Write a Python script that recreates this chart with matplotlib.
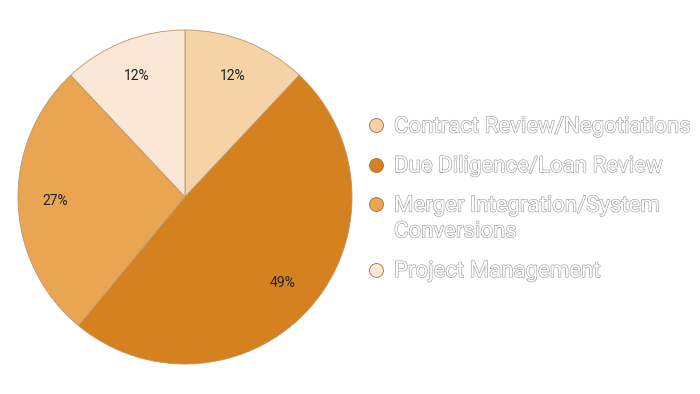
import matplotlib
matplotlib.use("Agg")
import matplotlib.pyplot as plt
import matplotlib.patheffects as pe

categories = ["Contract Review/Negotiations", "Due Diligence/Loan Review",
              "Merger Integration/System Conversions", "Project Management"]
legend_labels = ["Contract Review/Negotiations", "Due Diligence/Loan Review",
                 "Merger Integration/System\nConversions", "Project Management"]
values = [12, 49, 27, 12]
colors = ["#F5D3A6", "#D5811F", "#E9A552", "#FAE7D6"]

plt.rcParams['font.family'] = ['Roboto', 'DejaVu Sans']

fig = plt.figure(figsize=(7, 3.94), dpi=100)
W, H = 700, 394
cx, cy, r = 185, 197, 167
ax = fig.add_axes([(cx - r) / W, 1 - (cy + r) / H, 2 * r / W, 2 * r / H])
wedges, texts, autotexts = ax.pie(
    values, colors=colors, startangle=90, counterclock=False,
    autopct=lambda p: f"{p:.0f}%", pctdistance=0.78,
    wedgeprops=dict(edgecolor="#B9966A", linewidth=0.6),
    textprops=dict(fontsize=10, color="#222222"))
ax.set_xlim(-1, 1)
ax.set_ylim(-1, 1)
ax.set_aspect("equal")
ax.axis("off")

# legend drawn in a pixel-coordinate overlay
lax = fig.add_axes([0, 0, 1, 1])
lax.set_xlim(0, W)
lax.set_ylim(H, 0)
lax.axis("off")
y = 125.0
entry_step, line_step = 39.5, 26.0
for lab, c in zip(legend_labels, colors):
    lax.scatter([376], [y], s=100, facecolor=c, edgecolor="#A07040", linewidth=0.6, zorder=3)
    t = lax.text(394, y - 8.5, lab, fontsize=16, color="white", va="top", ha="left",
                 linespacing=1.3)
    t.set_path_effects([pe.withStroke(linewidth=0.9, foreground="#a0a0a0")])
    y += entry_step + line_step * lab.count("\n")

fig.savefig("out.png", dpi=100)
